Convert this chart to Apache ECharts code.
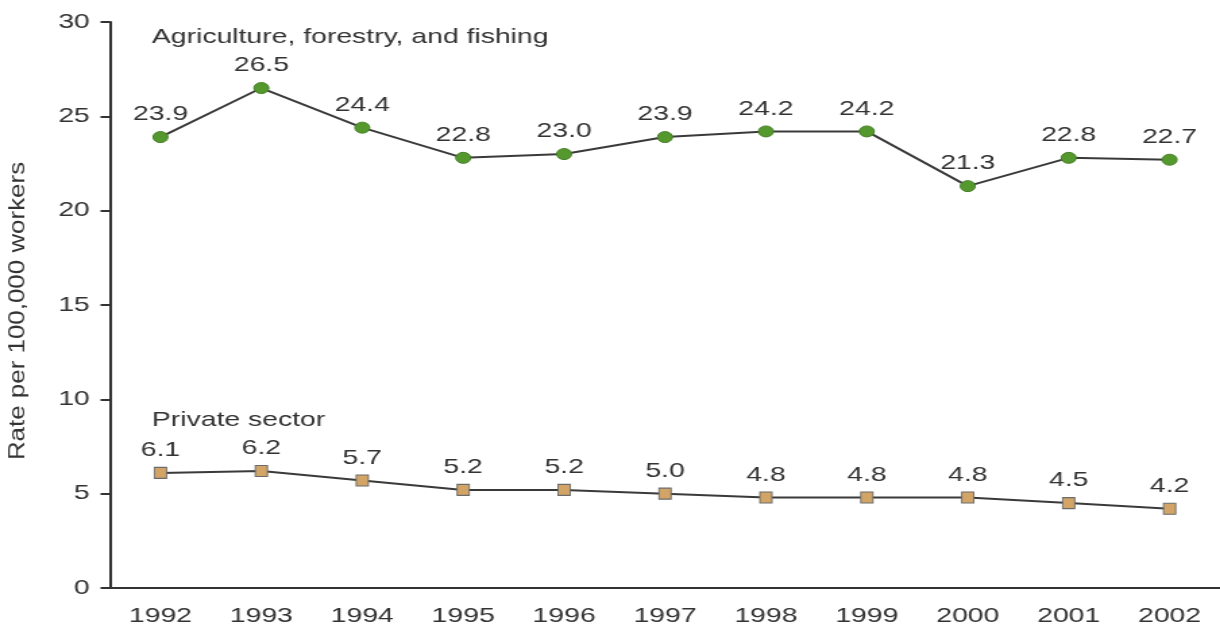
<!DOCTYPE html>
<html>
<head>
<meta charset="utf-8">
<script src="https://cdn.jsdelivr.net/npm/echarts@6/dist/echarts.min.js"></script>
<style>
  html, body { margin: 0; padding: 0; background: #fff; overflow: hidden; }
  /* The chart is laid out on a narrower canvas and widened to the page width */
  #chart { width: 904px; height: 629px; transform: scaleX(1.3496); transform-origin: 0 0; }
</style>
</head>
<body>
<div id="chart"></div>
<script>
// Fatality rates per 100,000 workers, 1992-2002
const years = ['1992', '1993', '1994', '1995', '1996', '1997', '1998', '1999', '2000', '2001', '2002'];
const agriculture = [23.9, 26.5, 24.4, 22.8, 23.0, 23.9, 24.2, 24.2, 21.3, 22.8, 22.7];
const privateSector = [6.1, 6.2, 5.7, 5.2, 5.2, 5.0, 4.8, 4.8, 4.8, 4.5, 4.2];
const yTicks = [0, 5, 10, 15, 20, 25, 30];

const FONT = '"Liberation Sans", Arial, Helvetica, sans-serif';
const TEXT = '#333';

const chart = echarts.init(document.getElementById('chart'), null, { renderer: 'canvas' });

const labelStyle = {
  show: true,
  position: 'top',
  distance: 6,
  fontFamily: FONT,
  fontSize: 21,
  color: TEXT,
  formatter: p => p.value.toFixed(1)
};

chart.setOption({
  animation: false,
  backgroundColor: '#fff',
  grid: { left: 81.5, right: -7.1, top: 22, bottom: 41, containLabel: false },
  xAxis: {
    type: 'category',
    data: years,
    boundaryGap: true,
    axisLine: { lineStyle: { color: '#333', width: 2 } },
    axisTick: { alignWithLabel: true, length: 8, lineStyle: { color: '#333', width: 2 } },
    axisLabel: { fontFamily: FONT, fontSize: 21, color: TEXT, margin: 18 },
    splitLine: { show: false }
  },
  yAxis: {
    type: 'value',
    min: yTicks[0],
    max: yTicks[yTicks.length - 1],
    interval: 5,
    axisLine: { show: true, lineStyle: { color: '#333', width: 2 } },
    axisTick: { show: true, length: 7, lineStyle: { color: '#333', width: 2 } },
    axisLabel: { fontFamily: FONT, fontSize: 21, color: TEXT, margin: 15 },
    splitLine: { show: false }
  },
  graphic: [
    {
      type: 'text', x: 13.2, y: 311, rotation: Math.PI / 2, scaleX: 1.62,
      style: {
        text: 'Rate per 100,000 workers', font: '16px ' + FONT, fill: TEXT,
        align: 'center', verticalAlign: 'middle'
      }
    },
    {
      type: 'text', left: 112.6, top: 27,
      style: { text: 'Agriculture, forestry, and fishing', font: '21px ' + FONT, fill: TEXT }
    },
    {
      type: 'text', left: 112.6, top: 410,
      style: { text: 'Private sector', font: '21px ' + FONT, fill: TEXT }
    }
  ],
  series: [
    {
      name: 'Agriculture, forestry, and fishing',
      type: 'line',
      data: agriculture,
      symbol: 'circle',
      symbolSize: 11,
      lineStyle: { color: '#3a3a3a', width: 2 },
      itemStyle: { color: '#55992e', borderColor: '#467f26', borderWidth: 1 },
      label: labelStyle
    },
    {
      name: 'Private sector',
      type: 'line',
      data: privateSector,
      symbol: 'rect',
      symbolSize: [9, 11],
      lineStyle: { color: '#3a3a3a', width: 2 },
      itemStyle: { color: '#d2a466', borderColor: '#6b6b6b', borderWidth: 1 },
      label: labelStyle
    }
  ]
});
</script>
</body>
</html>
